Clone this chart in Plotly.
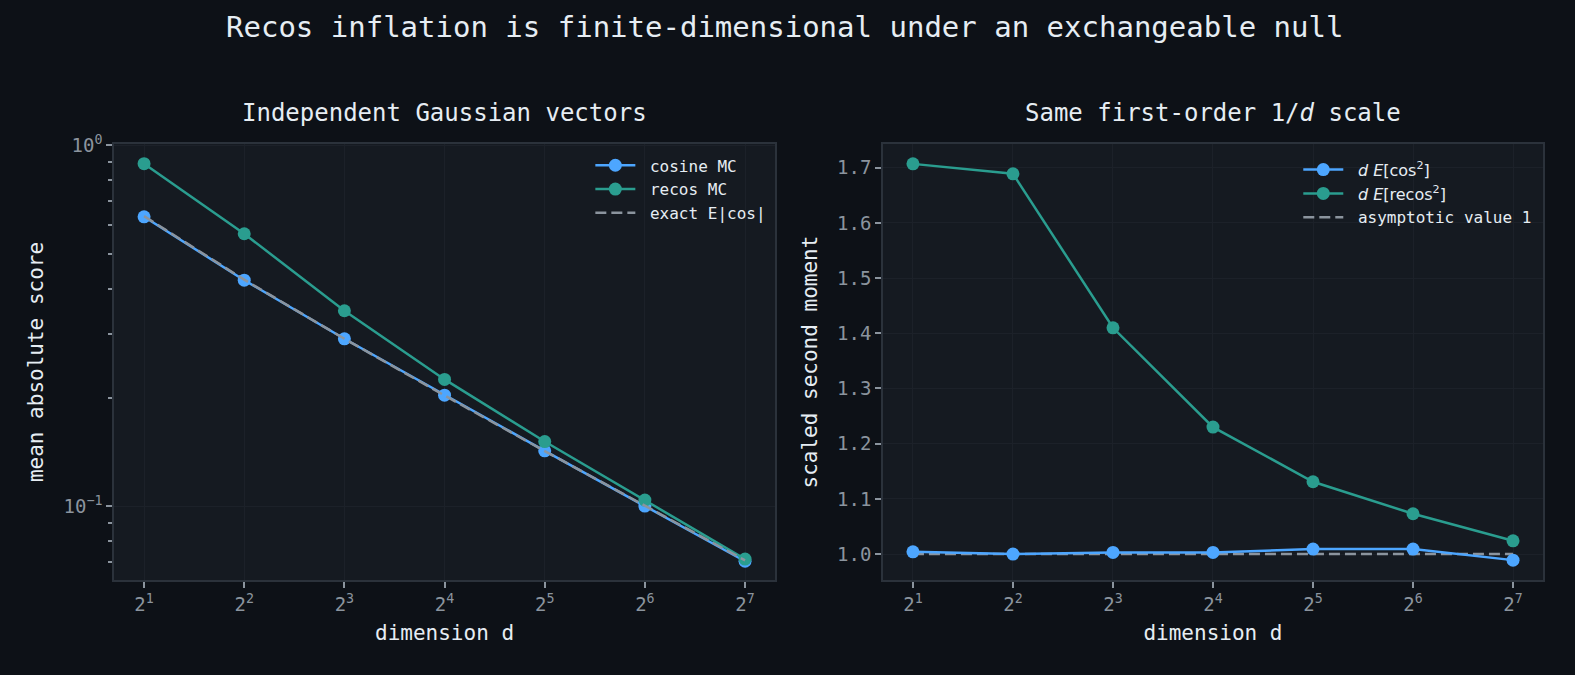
import plotly.graph_objects as go
from plotly.subplots import make_subplots

# dimensions d = 2 ... 128
dims = [2, 4, 8, 16, 32, 64, 128]
dim_ticks = ["2<sup>1</sup>", "2<sup>2</sup>", "2<sup>3</sup>", "2<sup>4</sup>",
             "2<sup>5</sup>", "2<sup>6</sup>", "2<sup>7</sup>"]

# left panel: mean absolute score
cosine_mc = [0.634, 0.423, 0.291, 0.203, 0.1423, 0.1000, 0.0703]
recos_mc = [0.890, 0.569, 0.348, 0.2245, 0.151, 0.1039, 0.0713]
exact_abs_cos = [0.6366, 0.4244, 0.2910, 0.2026, 0.1421, 0.1001, 0.0707]

# right panel: scaled second moment
d_cos2 = [1.004, 1.000, 1.003, 1.003, 1.009, 1.009, 0.989]
d_recos2 = [1.707, 1.689, 1.410, 1.230, 1.131, 1.073, 1.024]
asymptote = [1.0, 1.0, 1.0, 1.0, 1.0, 1.0, 1.0]

BLUE = "#4da6ff"
TEAL = "#2a9d8f"
GREY = "#8b949e"
BG = "#0d1117"
PANEL = "#151a21"
GRID = "#1c2129"
SPINE = "#2b323b"
TEXT = "#e6edf3"
TICK = "#8b949e"
FONT = "DejaVu Sans Mono"
MATH = '<span style="font-family:DejaVu Sans">'
GAP = "&nbsp;"
DASH = "11px,5px"

fig = make_subplots(rows=1, cols=2)

# --- left: Independent Gaussian vectors ---
fig.add_trace(go.Scatter(x=dims, y=cosine_mc, mode="lines+markers", name=GAP + "cosine MC",
                         line=dict(color=BLUE, width=2.5), marker=dict(size=13, color=BLUE),
                         legend="legend"), row=1, col=1)
fig.add_trace(go.Scatter(x=dims, y=recos_mc, mode="lines+markers", name=GAP + "recos MC",
                         line=dict(color=TEAL, width=2.5), marker=dict(size=13, color=TEAL),
                         legend="legend"), row=1, col=1)
fig.add_trace(go.Scatter(x=dims, y=exact_abs_cos, mode="lines", name=GAP + "exact E|cos|",
                         line=dict(color=GREY, width=2.5, dash=DASH),
                         legend="legend"), row=1, col=1)

# --- right: Same first-order 1/d scale ---
fig.add_trace(go.Scatter(x=dims, y=asymptote, mode="lines", name=GAP + "asymptotic value 1",
                         line=dict(color=GREY, width=2.5, dash=DASH),
                         legend="legend2", legendrank=3), row=1, col=2)
fig.add_trace(go.Scatter(x=dims, y=d_cos2, mode="lines+markers",
                         name=GAP + MATH + "<i>d</i> <i>E</i>[cos<sup>2</sup>]</span>",
                         line=dict(color=BLUE, width=2.5), marker=dict(size=13, color=BLUE),
                         legend="legend2", legendrank=1), row=1, col=2)
fig.add_trace(go.Scatter(x=dims, y=d_recos2, mode="lines+markers",
                         name=GAP + MATH + "<i>d</i> <i>E</i>[recos<sup>2</sup>]</span>",
                         line=dict(color=TEAL, width=2.5), marker=dict(size=13, color=TEAL),
                         legend="legend2", legendrank=2), row=1, col=2)

axis_common = dict(
    showline=True, mirror=True, linecolor=SPINE, linewidth=1.5,
    gridcolor=GRID, gridwidth=1, zeroline=False,
    ticks="outside", ticklen=6, tickwidth=1.5, tickcolor=TICK,
    tickfont=dict(family=FONT, size=19, color=TICK),
    title_font=dict(family=FONT, size=21, color=TEXT),
)

for c in (1, 2):
    fig.update_xaxes(type="log", range=[0.2107, 2.1974], tickvals=dims, ticktext=dim_ticks,
                     title_text="dimension d", title_standoff=12, row=1, col=c, **axis_common)
fig.update_xaxes(domain=[0.0, 0.4626], row=1, col=1)
fig.update_xaxes(domain=[0.5381, 1.0], row=1, col=2)

fig.update_yaxes(type="log", range=[-1.205, 0.004], tickvals=[0.1, 1],
                 ticktext=["10<sup>\u22121</sup>", "10<sup>0</sup>"],
                 minor=dict(tickvals=[0.07, 0.08, 0.09, 0.2, 0.3, 0.4, 0.5, 0.6, 0.7, 0.8, 0.9],
                            ticks="outside", ticklen=4, tickcolor=TICK, showgrid=False),
                 title_text="mean absolute score", title_standoff=14, row=1, col=1, **axis_common)
fig.update_yaxes(range=[0.953, 1.743], tickvals=[1.0, 1.1, 1.2, 1.3, 1.4, 1.5, 1.6, 1.7],
                 tickformat=".1f",
                 title_text="scaled second moment", title_standoff=14, row=1, col=2, **axis_common)

legend_common = dict(bgcolor="rgba(0,0,0,0)", borderwidth=0, yanchor="top", xanchor="right",
                     font=dict(family=FONT, size=16, color=TEXT), itemwidth=40,
                     tracegroupgap=2)

fig.update_layout(
    width=1575, height=675,
    paper_bgcolor=BG, plot_bgcolor=PANEL,
    margin=dict(l=114, r=32, t=144, b=95),
    font=dict(family=FONT, color=TEXT),
    legend=dict(x=0.46, y=0.99, **legend_common),
    legend2=dict(x=0.996, y=0.98, **legend_common),
    annotations=[
        dict(text="Recos inflation is finite-dimensional under an exchangeable null",
             x=0.469, y=1 + (144 - 27) / 436, xref="paper", yref="paper", showarrow=False,
             xanchor="center", yanchor="middle",
             font=dict(family=FONT, size=29, color=TEXT)),
        dict(text="Independent Gaussian vectors", x=0.2313, y=1.035, xref="paper", yref="paper",
             showarrow=False, xanchor="center", yanchor="bottom",
             font=dict(family=FONT, size=24, color=TEXT)),
        dict(text="Same first-order 1/<i>d</i> scale", x=0.769, y=1.035, xref="paper",
             yref="paper", showarrow=False, xanchor="center", yanchor="bottom",
             font=dict(family=FONT, size=24, color=TEXT)),
    ],
)

fig.write_html("out.html", config={"displayModeBar": False},
               post_script="document.body.style.margin='0px';")
